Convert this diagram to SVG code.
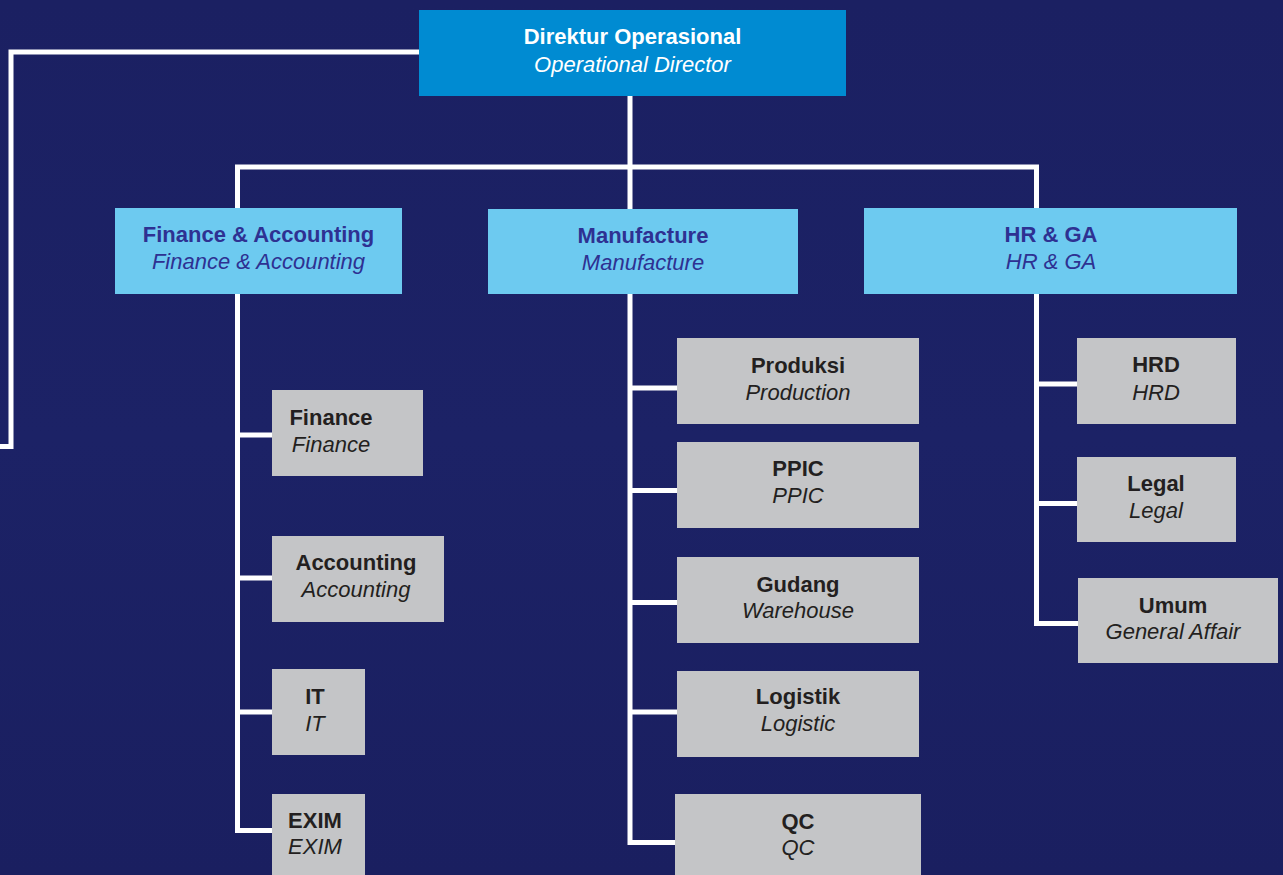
<svg xmlns="http://www.w3.org/2000/svg" width="1283" height="875" viewBox="0 0 1283 875">
  <defs>
    <style>
      .conn { fill: none; stroke: #ffffff; stroke-width: 5; stroke-linejoin: miter; stroke-linecap: butt; }
      .top { fill: #008bd2; }
      .mid { fill: #6dcaf0; }
      .leaf { fill: #c4c5c7; }
      text { font-family: "Liberation Sans", Arial, Helvetica, sans-serif; font-size: 22px; text-anchor: middle; }
      .b { font-weight: bold; }
      .i { font-style: italic; }
      .tw { fill: #ffffff; }
      .tm { fill: #2e3192; }
      .tl { fill: #231f20; }
    </style>
    <linearGradient id="bg" x1="0" y1="0" x2="0" y2="1">
      <stop offset="0" stop-color="#1b2062"/>
      <stop offset="0.5" stop-color="#1c2266"/>
      <stop offset="1" stop-color="#1a1f60"/>
    </linearGradient>
  </defs>
  <rect x="0" y="0" width="1283" height="875" fill="url(#bg)"/>

  <g id="connectors">
    <path class="conn" d="M419 52 H11 V446.5 H0"/>
    <path class="conn" d="M630 96 V842.5 H675"/>
    <path class="conn" d="M237.5 208 V167 H1036.5 V208"/>
    <path class="conn" d="M237.5 294 V830.5 H272"/>
    <path class="conn" d="M237.5 435 H272 M237.5 578 H272 M237.5 712 H272"/>
    <path class="conn" d="M630 388 H677 M630 490.5 H677 M630 602.5 H677 M630 712 H677"/>
    <path class="conn" d="M1036.5 294 V623.5 H1078"/>
    <path class="conn" d="M1036.5 384 H1077 M1036.5 503.5 H1077"/>
  </g>

  <g id="operational-director">
    <rect class="top" x="419" y="10" width="427" height="86"/>
    <text class="b tw" x="632.5" y="44">Direktur Operasional</text>
    <text class="i tw" x="632.5" y="72">Operational Director</text>
  </g>

  <g id="finance-accounting">
    <rect class="mid" x="115" y="208" width="287" height="86"/>
    <text class="b tm" x="258.5" y="242">Finance &amp; Accounting</text>
    <text class="i tm" x="258.5" y="269">Finance &amp; Accounting</text>
  </g>
  <g id="manufacture">
    <rect class="mid" x="488" y="209" width="310" height="85"/>
    <text class="b tm" x="643" y="243">Manufacture</text>
    <text class="i tm" x="643" y="270">Manufacture</text>
  </g>
  <g id="hr-ga">
    <rect class="mid" x="864" y="208" width="373" height="86"/>
    <text class="b tm" x="1051" y="242">HR &amp; GA</text>
    <text class="i tm" x="1051" y="269">HR &amp; GA</text>
  </g>

  <g id="finance">
    <rect class="leaf" x="272" y="390" width="151" height="86"/>
    <text class="b tl" x="331" y="425">Finance</text>
    <text class="i tl" x="331" y="452">Finance</text>
  </g>
  <g id="accounting">
    <rect class="leaf" x="272" y="536" width="172" height="86"/>
    <text class="b tl" x="356" y="570">Accounting</text>
    <text class="i tl" x="356" y="597">Accounting</text>
  </g>
  <g id="it">
    <rect class="leaf" x="272" y="669" width="93" height="86"/>
    <text class="b tl" x="315" y="704">IT</text>
    <text class="i tl" x="315" y="731">IT</text>
  </g>
  <g id="exim">
    <rect class="leaf" x="272" y="794" width="93" height="81"/>
    <text class="b tl" x="315" y="828">EXIM</text>
    <text class="i tl" x="315" y="854">EXIM</text>
  </g>

  <g id="produksi">
    <rect class="leaf" x="677" y="338" width="242" height="86"/>
    <text class="b tl" x="798" y="373">Produksi</text>
    <text class="i tl" x="798" y="400">Production</text>
  </g>
  <g id="ppic">
    <rect class="leaf" x="677" y="442" width="242" height="86"/>
    <text class="b tl" x="798" y="476">PPIC</text>
    <text class="i tl" x="798" y="503">PPIC</text>
  </g>
  <g id="gudang">
    <rect class="leaf" x="677" y="557" width="242" height="86"/>
    <text class="b tl" x="798" y="592">Gudang</text>
    <text class="i tl" x="798" y="618">Warehouse</text>
  </g>
  <g id="logistik">
    <rect class="leaf" x="677" y="671" width="242" height="86"/>
    <text class="b tl" x="798" y="704">Logistik</text>
    <text class="i tl" x="798" y="731">Logistic</text>
  </g>
  <g id="qc">
    <rect class="leaf" x="675" y="794" width="246" height="81"/>
    <text class="b tl" x="798" y="829">QC</text>
    <text class="i tl" x="798" y="855">QC</text>
  </g>

  <g id="hrd">
    <rect class="leaf" x="1077" y="338" width="159" height="86"/>
    <text class="b tl" x="1156" y="372">HRD</text>
    <text class="i tl" x="1156" y="400">HRD</text>
  </g>
  <g id="legal">
    <rect class="leaf" x="1077" y="457" width="159" height="85"/>
    <text class="b tl" x="1156" y="491">Legal</text>
    <text class="i tl" x="1156" y="518">Legal</text>
  </g>
  <g id="umum">
    <rect class="leaf" x="1078" y="578" width="200" height="85"/>
    <text class="b tl" x="1173" y="613">Umum</text>
    <text class="i tl" x="1173" y="639">General Affair</text>
  </g>
</svg>
